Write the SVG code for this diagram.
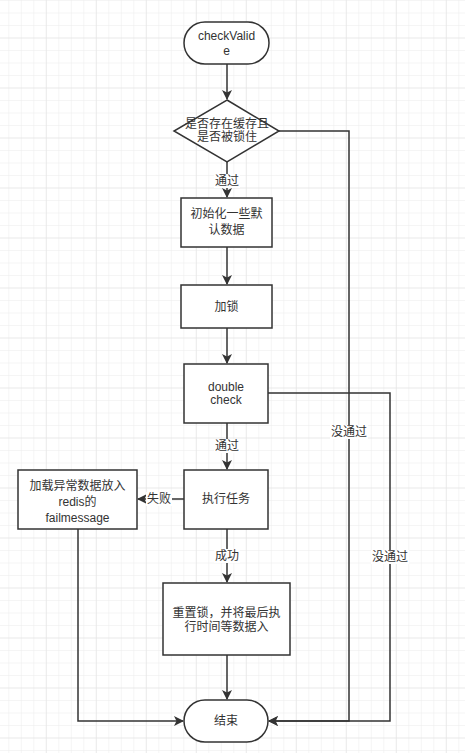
<svg xmlns="http://www.w3.org/2000/svg" width="465" height="753" viewBox="0 0 465 753">
<defs>
<pattern id="minor" x="8.3" y="0" width="12.5" height="12.5" patternUnits="userSpaceOnUse">
<path d="M0 0V12.5M0 0H12.5" fill="none" stroke="#ececec" stroke-width="1"/>
</pattern>
<pattern id="major" x="-4.2" y="-12.5" width="50" height="50" patternUnits="userSpaceOnUse">
<path d="M0 0V50M0 0H50" fill="none" stroke="#e2e2e2" stroke-width="1"/>
</pattern>
<marker id="arr" viewBox="0 0 10 10" refX="9" refY="5" markerWidth="10" markerHeight="10" markerUnits="userSpaceOnUse" orient="auto">
<path d="M0 0L10 5L0 10L2.5 5Z" fill="#333"/>
</marker>
</defs>
<style>
.n{fill:#fff;stroke:#333;stroke-width:1.5}
.t{font-family:"Liberation Sans","Noto Sans CJK SC",sans-serif;font-size:12px;fill:#333;text-anchor:middle}
.c{fill:none;stroke:#333;stroke-width:1.5}
.lb{fill:#fff}
</style>
<rect width="465" height="753" fill="#fff"/>
<rect width="465" height="753" fill="url(#minor)"/>
<rect width="465" height="753" fill="url(#major)"/>

<g id="connectors">
<path class="c" d="M227 64V99" marker-end="url(#arr)"/>
<path class="c" d="M227 162V197" marker-end="url(#arr)"/>
<path class="c" d="M227 247V284" marker-end="url(#arr)"/>
<path class="c" d="M227 328V363" marker-end="url(#arr)"/>
<path class="c" d="M227 423V469" marker-end="url(#arr)"/>
<path class="c" d="M184 499H138" marker-end="url(#arr)"/>
<path class="c" d="M227 529V582" marker-end="url(#arr)"/>
<path class="c" d="M227 655V699" marker-end="url(#arr)"/>
<path class="c" d="M279 131H349V721H269" marker-end="url(#arr)"/>
<path class="c" d="M268 393H390V721H269" marker-end="url(#arr)"/>
<path class="c" d="M78 529V721H183" marker-end="url(#arr)"/>
<rect class="lb" x="214" y="174" width="26" height="14"/>
<text class="t" x="227" y="185">通过</text>
<rect class="lb" x="214" y="439" width="26" height="14"/>
<text class="t" x="227" y="450">通过</text>
<rect class="lb" x="146" y="492" width="26" height="14"/>
<text class="t" x="159" y="503">失败</text>
<rect class="lb" x="214" y="549" width="26" height="14"/>
<text class="t" x="227" y="560">成功</text>
<rect class="lb" x="330" y="425" width="38" height="14"/>
<text class="t" x="349" y="436">没通过</text>
<rect class="lb" x="371" y="550" width="38" height="14"/>
<text class="t" x="390" y="561">没通过</text>
</g>

<g id="start">
<rect class="n" x="184" y="22" width="85" height="42" rx="21"/>
<text class="t" x="226.5" y="40">checkValid</text>
<text class="t" x="226.5" y="55">e</text>
</g>
<g id="decision">
<path class="n" d="M227 100L279 131L227 162L174 131Z"/>
<text class="t" x="227" y="128">是否存在缓存且</text>
<text class="t" x="227" y="141">是否被锁住</text>
</g>
<g id="init">
<rect class="n" x="181" y="198" width="91" height="49"/>
<text class="t" x="226.5" y="218">初始化一些默</text>
<text class="t" x="226.5" y="234">认数据</text>
</g>
<g id="lock">
<rect class="n" x="181" y="285" width="91" height="43"/>
<text class="t" x="226.5" y="311">加锁</text>
</g>
<g id="doublecheck">
<rect class="n" x="184" y="364" width="84" height="59"/>
<text class="t" x="226" y="391">double</text>
<text class="t" x="226" y="404">check</text>
</g>
<g id="exec">
<rect class="n" x="184" y="470" width="84" height="59"/>
<text class="t" x="226" y="503">执行任务</text>
</g>
<g id="fail">
<rect class="n" x="18" y="470" width="119" height="59"/>
<text class="t" x="77.5" y="490">加载异常数据放入</text>
<text class="t" x="77.5" y="506">redis的</text>
<text class="t" x="77.5" y="522">failmessage</text>
</g>
<g id="reset">
<rect class="n" x="163" y="583" width="127" height="72"/>
<text class="t" x="226.5" y="617">重置锁，并将最后执</text>
<text class="t" x="226.5" y="631">行时间等数据入</text>
</g>
<g id="end">
<rect class="n" x="184" y="700" width="84" height="42" rx="21"/>
<text class="t" x="226" y="725">结束</text>
</g>
</svg>
